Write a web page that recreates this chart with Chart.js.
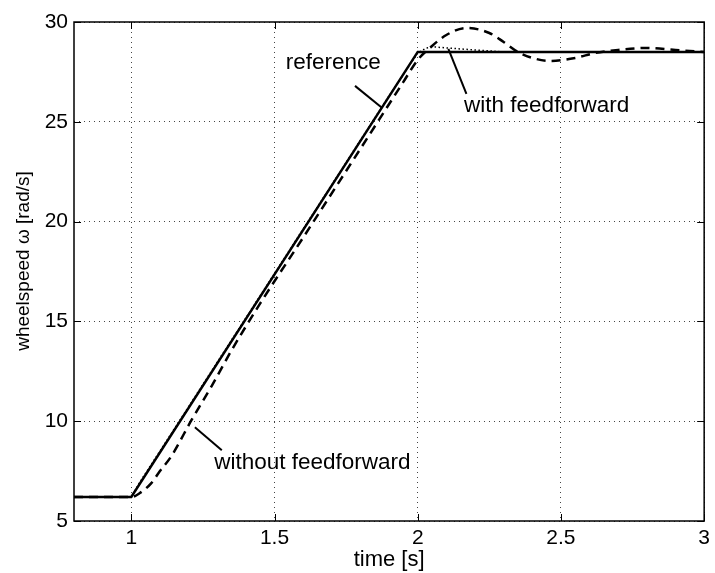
<!DOCTYPE html>
<html>
<head>
<meta charset="utf-8">
<script src="https://cdn.jsdelivr.net/npm/chart.js@4"></script>
<style>
  body { margin: 0; background: #fff; }
  #wrap { width: 715px; height: 573px; }
</style>
</head>
<body>
<div id="wrap"><canvas id="speedChart" width="715" height="573"></canvas></div>
<script>
// tick values
const xTicks = [1, 1.5, 2, 2.5, 3];
const yTicks = [5, 10, 15, 20, 25, 30];

// reference ramp
const refTime = [0.8, 1.0, 2.0, 3.0];
const refSpeed = [6.2, 6.2, 28.5, 28.5];

// with feedforward (dotted)
const ffTime = [0.8, 1.0, 1.03, 1.1, 1.5, 1.9, 2.0, 2.03, 2.06, 2.1, 2.15, 2.2, 2.3, 3.0];
const ffSpeed = [6.2, 6.2, 6.95, 8.5, 17.4, 26.3, 28.45, 28.7, 28.75, 28.7, 28.65, 28.6, 28.5, 28.5];

// without feedforward (dashed)
const noffTime = [0.8, 1.0, 1.03, 1.07, 1.1, 1.14, 1.21, 1.28, 1.35, 1.45, 1.6, 1.8, 1.95, 2.0,
  2.05, 2.1, 2.17, 2.25, 2.3, 2.35, 2.4, 2.46, 2.55, 2.62, 2.7, 2.8, 2.9, 3.0];
const noffSpeed = [6.2, 6.2, 6.4, 6.9, 7.5, 8.25, 10.05, 11.75, 13.55, 15.9, 19.2, 23.65, 27.0, 28.1,
  28.8, 29.35, 29.7, 29.45, 29.0, 28.5, 28.2, 28.05, 28.2, 28.45, 28.6, 28.7, 28.6, 28.5];

// text labels with leader lines, in data units
const notes = [
  { text: 'reference', x: 1.705, y: 27.95, from: [1.781, 26.8], to: [1.875, 25.7] },
  { text: 'with feedforward', x: 2.45, y: 25.8, from: [2.17, 26.4], to: [2.107, 28.65] },
  { text: 'without feedforward', x: 1.632, y: 7.9, from: [1.316, 8.55], to: [1.222, 9.7] }
];

const FONT = '"Liberation Sans", Arial, Helvetica, sans-serif';

function pts(t, v) {
  return t.map((x, i) => ({ x: x, y: v[i] }));
}

const boxAndNotes = {
  id: 'boxAndNotes',
  afterDatasetsDraw(chart) {
    const ctx = chart.ctx;
    const a = chart.chartArea;
    const xs = chart.scales.x, ys = chart.scales.y;
    ctx.save();
    // inward ticks on all four sides
    ctx.strokeStyle = '#000';
    ctx.lineWidth = 1;
    ctx.beginPath();
    xTicks.forEach(v => {
      const px = Math.round(xs.getPixelForValue(v)) + 0.5;
      ctx.moveTo(px, a.bottom); ctx.lineTo(px, a.bottom - 7);
      ctx.moveTo(px, a.top); ctx.lineTo(px, a.top + 7);
    });
    yTicks.forEach(v => {
      const py = Math.round(ys.getPixelForValue(v)) + 0.5;
      ctx.moveTo(a.left, py); ctx.lineTo(a.left + 7, py);
      ctx.moveTo(a.right, py); ctx.lineTo(a.right - 7, py);
    });
    ctx.stroke();
    // box
    ctx.lineWidth = 1.5;
    ctx.strokeRect(a.left, a.top, a.right - a.left, a.bottom - a.top);
    // notes
    ctx.font = '22.5px ' + FONT;
    ctx.fillStyle = '#000';
    ctx.textAlign = 'center';
    ctx.textBaseline = 'middle';
    ctx.lineWidth = 2;
    notes.forEach(n => {
      ctx.fillText(n.text, xs.getPixelForValue(n.x), ys.getPixelForValue(n.y));
      ctx.beginPath();
      ctx.moveTo(xs.getPixelForValue(n.from[0]), ys.getPixelForValue(n.from[1]));
      ctx.lineTo(xs.getPixelForValue(n.to[0]), ys.getPixelForValue(n.to[1]));
      ctx.stroke();
    });
    // y axis title
    ctx.save();
    ctx.translate(24, 261);
    ctx.rotate(-Math.PI / 2);
    ctx.font = '19px ' + FONT;
    ctx.fillText('wheelspeed ω [rad/s]', 0, 0);
    ctx.restore();
    ctx.restore();
  }
};

const ctx = document.getElementById('speedChart').getContext('2d');

new Chart(ctx, {
  type: 'line',
  data: {
    datasets: [
      {
        label: 'without feedforward',
        data: pts(noffTime, noffSpeed),
        borderColor: '#000',
        borderWidth: 2.5,
        borderDash: [9, 6],
        cubicInterpolationMode: 'monotone',
        pointRadius: 0
      },
      {
        label: 'with feedforward',
        data: pts(ffTime, ffSpeed),
        borderColor: '#000',
        borderWidth: 1.5,
        borderDash: [1.5, 2.5],
        pointRadius: 0
      },
      {
        label: 'reference',
        data: pts(refTime, refSpeed),
        borderColor: '#000',
        borderWidth: 2.5,
        pointRadius: 0
      }
    ]
  },
  options: {
    responsive: false,
    animation: false,
    layout: { padding: { top: 22, right: 6, left: 0, bottom: 0 } },
    plugins: {
      legend: { display: false },
      tooltip: { enabled: false }
    },
    scales: {
      x: {
        type: 'linear',
        min: 0.8,
        max: 3,
        afterBuildTicks: s => { s.ticks = xTicks.map(v => ({ value: v })); },
        afterFit: s => { s.height = 52; },
        border: { display: false, dash: [1, 4] },
        grid: { color: '#444', lineWidth: 1, drawTicks: false },
        ticks: {
          padding: 5,
          color: '#000',
          font: { family: FONT, size: 21 },
          callback: v => String(v)
        },
        title: {
          display: true,
          text: 'time [s]',
          color: '#000',
          font: { family: FONT, size: 22 },
          padding: { top: 0, bottom: 0 }
        }
      },
      y: {
        min: 5,
        max: 30,
        afterBuildTicks: s => { s.ticks = yTicks.map(v => ({ value: v })); },
        afterFit: s => { s.width = 74; },
        border: { display: false, dash: [1, 4] },
        grid: { color: '#444', lineWidth: 1, drawTicks: false },
        ticks: {
          padding: 6,
          color: '#000',
          font: { family: FONT, size: 21 }
        }
      }
    }
  },
  plugins: [boxAndNotes]
});
</script>
</body>
</html>
